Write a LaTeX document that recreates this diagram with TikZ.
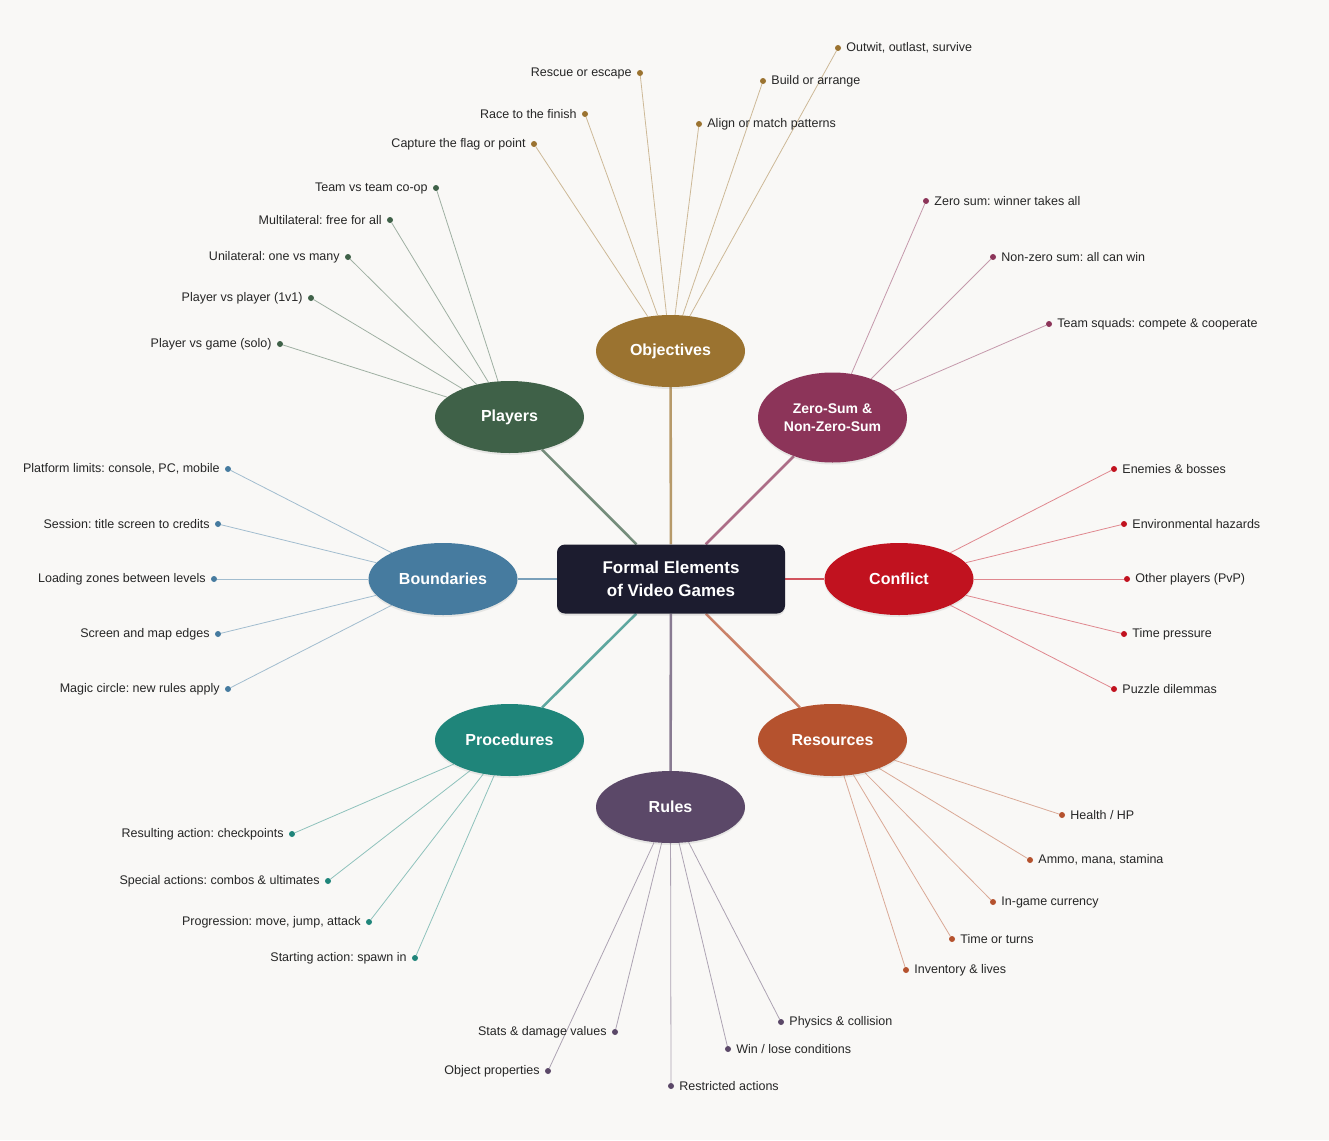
\documentclass[tikz,border=0pt]{standalone}
\usepackage{fontspec}
\setmainfont{Liberation Sans}
\frenchspacing
\usetikzlibrary{shapes.geometric,shadows}
\definecolor{bgc}{HTML}{F9F8F6}
\definecolor{ctr}{HTML}{1C1C2F}
\definecolor{cobj}{HTML}{9B7330}
\definecolor{czs}{HTML}{8C3459}
\definecolor{cpl}{HTML}{3F6148}
\definecolor{ccf}{HTML}{C1121F}
\definecolor{cbd}{HTML}{467B9F}
\definecolor{crs}{HTML}{B5522E}
\definecolor{cpr}{HTML}{1F857A}
\definecolor{cru}{HTML}{5B4868}
\definecolor{txt}{HTML}{262626}
\pgfdeclarelayer{bg}
\pgfsetlayers{bg,main}
\tikzset{
  centerbox/.style={rectangle, rounded corners=8pt, fill=ctr, minimum width=228pt, minimum height=69pt, align=center, text=white, font=\fontsize{17}{23}\selectfont\bfseries, drop shadow={opacity=0.18, shadow xshift=0pt, shadow yshift=-2pt}},
  catnode/.style={ellipse, fill=#1, minimum width=149pt, minimum height=72pt, inner sep=0pt, align=center, text=white, font=\fontsize{16}{19}\selectfont\bfseries, drop shadow={opacity=0.15, shadow xshift=0pt, shadow yshift=-2pt}},
  spoke/.style={draw=#1!72!white, line width=2.6pt},
  leafline/.style={draw=#1!50!white, line width=0.8pt},
  leafdot/.style={circle, fill=#1, inner sep=0pt, minimum size=6pt},
  leaflabel/.style={inner sep=0pt, label distance=5pt, text=txt, font=\fontsize{12.5}{15}\selectfont}
}
% name, x, y, side, text, color, category
\newcommand{\mkleaf}[7]{%
  \node[leafdot=#6, label={[leaflabel]#4:#5}] (#1) at (#2,#3) {};
  \begin{pgfonlayer}{bg}\draw[leafline=#6] (#1) -- (#7);\end{pgfonlayer}
}
\begin{document}
\begin{tikzpicture}[x=1pt,y=-1pt]
\begin{pgfonlayer}{bg}
\fill[bgc] (0,0) rectangle (1329,1140);
\end{pgfonlayer}
\useasboundingbox (0,0) rectangle (1329,1140);

\node[centerbox] (center) at (671,579) {Formal Elements\\of Video Games};

\node[catnode=cobj] (obj) at (670.5,351) {Objectives};
\node[catnode=czs, minimum height=90pt, font=\fontsize{14}{18}\selectfont\bfseries] (zs) at (832.5,417.5) {Zero-Sum \&\\Non-Zero-Sum};
\node[catnode=cpl] (pl) at (509.5,417) {Players};
\node[catnode=ccf] (cf) at (899,579) {Conflict};
\node[catnode=cbd] (bd) at (443,579) {Boundaries};
\node[catnode=crs] (rs) at (832.5,740) {Resources};
\node[catnode=cpr] (pr) at (509.5,740) {Procedures};
\node[catnode=cru] (ru) at (670.5,807) {Rules};

\begin{pgfonlayer}{bg}
\draw[spoke=cobj] (center) -- (obj);
\draw[spoke=czs] (center) -- (zs);
\draw[spoke=cpl] (center) -- (pl);
\draw[spoke=ccf] (center) -- (cf);
\draw[spoke=cbd] (center) -- (bd);
\draw[spoke=crs] (center) -- (rs);
\draw[spoke=cpr] (center) -- (pr);
\draw[spoke=cru] (center) -- (ru);
\end{pgfonlayer}

% Objectives
\mkleaf{o1}{534}{144}{left}{Capture the flag or point}{cobj}{obj}
\mkleaf{o2}{585}{114}{left}{Race to the finish}{cobj}{obj}
\mkleaf{o3}{640}{73}{left}{Rescue or escape}{cobj}{obj}
\mkleaf{o4}{699}{124}{right}{Align or match patterns}{cobj}{obj}
\mkleaf{o5}{763}{81}{right}{Build or arrange}{cobj}{obj}
\mkleaf{o6}{838}{48}{right}{Outwit, outlast, survive}{cobj}{obj}
% Players
\mkleaf{p1}{436}{188}{left}{Team vs team co-op}{cpl}{pl}
\mkleaf{p2}{390}{220}{left}{Multilateral: free for all}{cpl}{pl}
\mkleaf{p3}{348}{257}{left}{Unilateral: one vs many}{cpl}{pl}
\mkleaf{p4}{311}{298}{left}{Player vs player (1v1)}{cpl}{pl}
\mkleaf{p5}{280}{344}{left}{Player vs game (solo)}{cpl}{pl}
% Zero-sum
\mkleaf{z1}{926}{201}{right}{Zero sum: winner takes all}{czs}{zs}
\mkleaf{z2}{993}{257}{right}{Non-zero sum: all can win}{czs}{zs}
\mkleaf{z3}{1049}{324}{right}{Team squads: compete \& cooperate}{czs}{zs}
% Conflict
\mkleaf{c1}{1114}{469}{right}{Enemies \& bosses}{ccf}{cf}
\mkleaf{c2}{1124}{524}{right}{Environmental hazards}{ccf}{cf}
\mkleaf{c3}{1127}{579}{right}{Other players (PvP)}{ccf}{cf}
\mkleaf{c4}{1124}{634}{right}{Time pressure}{ccf}{cf}
\mkleaf{c5}{1114}{689}{right}{Puzzle dilemmas}{ccf}{cf}
% Boundaries
\mkleaf{b1}{228}{469}{left}{Platform limits: console, PC, mobile}{cbd}{bd}
\mkleaf{b2}{218}{524}{left}{Session: title screen to credits}{cbd}{bd}
\mkleaf{b3}{214}{579}{left}{Loading zones between levels}{cbd}{bd}
\mkleaf{b4}{218}{634}{left}{Screen and map edges}{cbd}{bd}
\mkleaf{b5}{228}{689}{left}{Magic circle: new rules apply}{cbd}{bd}
% Procedures
\mkleaf{r1}{292}{834}{left}{Resulting action: checkpoints}{cpr}{pr}
\mkleaf{r2}{328}{881}{left}{Special actions: combos \& ultimates}{cpr}{pr}
\mkleaf{r3}{369}{922}{left}{Progression: move, jump, attack}{cpr}{pr}
\mkleaf{r4}{415}{958}{left}{Starting action: spawn in}{cpr}{pr}
% Resources
\mkleaf{s1}{1062}{815}{right}{Health / HP}{crs}{rs}
\mkleaf{s2}{1030}{860}{right}{Ammo, mana, stamina}{crs}{rs}
\mkleaf{s3}{993}{902}{right}{In-game currency}{crs}{rs}
\mkleaf{s4}{952}{939}{right}{Time or turns}{crs}{rs}
\mkleaf{s5}{906}{970}{right}{Inventory \& lives}{crs}{rs}
% Rules
\mkleaf{u1}{548}{1071}{left}{Object properties}{cru}{ru}
\mkleaf{u2}{615}{1032}{left}{Stats \& damage values}{cru}{ru}
\mkleaf{u3}{671}{1086}{right}{Restricted actions}{cru}{ru}
\mkleaf{u4}{728}{1049}{right}{Win / lose conditions}{cru}{ru}
\mkleaf{u5}{781}{1022}{right}{Physics \& collision}{cru}{ru}
\end{tikzpicture}
\end{document}
